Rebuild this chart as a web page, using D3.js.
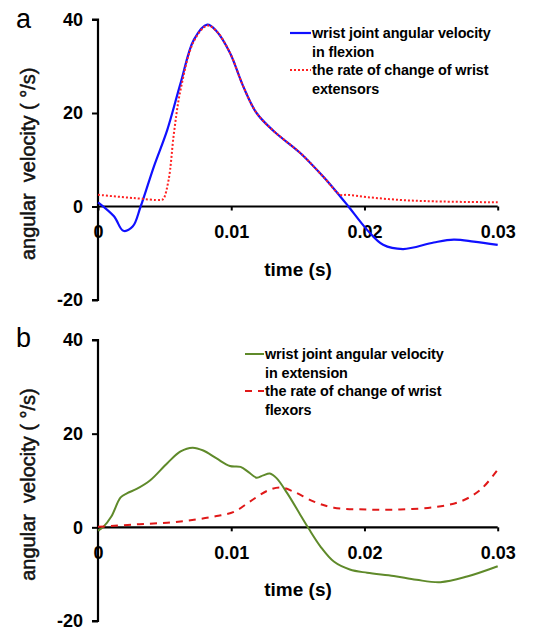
<!DOCTYPE html>
<html><head><meta charset="utf-8">
<script src="https://cdn.jsdelivr.net/npm/d3@7/dist/d3.min.js"></script>
<style>body{margin:0;background:#fff}svg{display:block}text{font-family:"Liberation Sans",Arial,sans-serif}</style>
</head><body>
<script>
// Panel a data
const aBlueT = [0,0.0012,0.0019,0.0026,0.0032,0.0042,0.0052,0.0062,0.0072,0.0082,0.0089,0.0099,0.0109,0.0119,0.0132,0.0152,0.0169,0.0182,0.0188,0.0202,0.0214,0.0229,0.0252,0.0267,0.0282,0.03];
const aBlueV = [0.9,-2.1,-5.2,-4.3,0,8.6,16.4,26.4,35.7,38.9,37.5,32.9,25.7,20,16.1,11.4,6.4,2.1,0,-5,-8.2,-9.1,-7.7,-7.1,-7.5,-8.2];
const aRedT = [0,0.0027,0.0047,0.0049,0.0053,0.0057,0.0062,0.0072,0.0082,0.0089,0.0099,0.0109,0.0119,0.0132,0.0152,0.0169,0.0182,0.0187,0.0202,0.0227,0.0252,0.03];
const aRedV = [2.5,1.8,1.4,1.6,5.7,15.7,25,35.4,38.7,37.5,32.9,25.7,20,16.1,11.4,6.4,2.5,2.5,2.0,1.4,1.1,0.9];
// Panel b data
const bGreenT = [0,0.0004,0.001,0.0017,0.0022,0.0029,0.0039,0.0052,0.0062,0.0071,0.0079,0.0089,0.0099,0.0107,0.0113,0.0119,0.0124,0.0129,0.0134,0.0142,0.0152,0.0158,0.0167,0.0177,0.0189,0.0202,0.0222,0.0239,0.0257,0.0277,0.03];
const bGreenV = [-0.7,0.1,2.3,6.4,7.3,8.2,10,13.7,16.2,17,16.4,14.7,13.1,12.9,11.8,10.6,11.1,11.5,10.5,7.3,2.6,-0.2,-4.1,-7.3,-9,-9.7,-10.4,-11.2,-11.7,-10.5,-8.3];
const bRedT = [0,0.0027,0.0052,0.0072,0.0089,0.0102,0.0114,0.0127,0.0137,0.0147,0.0162,0.0177,0.0202,0.0227,0.0252,0.0272,0.0287,0.03];
const bRedV = [0.1,0.6,1.0,1.6,2.4,3.3,5.5,7.8,8.5,7.6,5.5,4.2,3.8,3.8,4.3,5.5,8,12.3];

const xTicks = [0,0.01,0.02,0.03];
const xTickLabels = ["0","0.01","0.02","0.03"];
const yTicks = [-20,0,20,40];
const yTickLabels = ["-20","0","20","40"];

const W=534,H=632;
const svg=d3.select("body").append("svg").attr("width",W).attr("height",H);

function panel(o){
  const g=svg.append("g");
  const x=d3.scaleLinear().domain([0,0.03]).range([98,497.7]);
  const y=d3.scaleLinear().domain([-20,40]).range([o.y0,o.y40]);
  g.append("text").attr("x",o.letterX).attr("y",o.letterY).attr("font-size",27).text(o.letter);
  const ya=g.append("g").attr("transform","translate(98,0)").call(d3.axisLeft(y).tickValues(yTicks).tickSize(6).tickPadding(9).tickFormat((d,i)=>yTickLabels[i]));
  ya.select(".domain").attr("stroke","#000").attr("stroke-width",2.2).attr("d",`M-6,${y(-20)}H0V${y(40)}H-6`);
  ya.selectAll(".tick line").attr("stroke","#000").attr("stroke-width",2);
  ya.selectAll(".tick text").attr("font-size",18).attr("font-weight","bold").attr("fill","#000").attr("font-family","Liberation Sans, Arial, sans-serif");
  const xa=g.append("g").attr("transform",`translate(0,${y(0)})`).call(d3.axisBottom(x).tickValues(xTicks).tickSize(4).tickPadding(15).tickFormat((d,i)=>xTickLabels[i]));
  xa.select(".domain").attr("stroke","#000").attr("stroke-width",2.2).attr("d",`M${x(0)},0H${x(0.03)}`);
  xa.selectAll(".tick line").attr("stroke","#000").attr("stroke-width",2);
  xa.selectAll(".tick text").attr("font-size",18).attr("font-weight","bold").attr("fill","#000").attr("font-family","Liberation Sans, Arial, sans-serif");
  g.append("text").attr("x",298).attr("y",y(0)+69).attr("text-anchor","middle").attr("font-size",19).attr("font-weight","bold").text("time (s)");
  g.append("text").attr("transform",`translate(35,${(y(40)+y(-20))/2+4}) rotate(-90)`).attr("text-anchor","middle").attr("font-size",20)
    .attr("fill","#111").attr("stroke","#111").attr("stroke-width",0.5).attr("xml:space","preserve").style("white-space","pre").text("angular  velocity ( °/s)");
  o.series.forEach(s=>{
    const line=d3.line().x((d,i)=>x(s.t[i])).y(d=>y(d)).curve(d3.curveCatmullRom.alpha(0.5));
    g.append("path").attr("d",line(s.v)).attr("fill","none").attr("stroke",s.color).attr("stroke-width",s.w).attr("stroke-dasharray",s.dash||null);
  });
  o.series.forEach((s,i)=>{
    const ly=o.legY+i*o.legStep*2;
    g.append("line").attr("x1",o.legX).attr("x2",o.legX+o.legLen).attr("y1",ly).attr("y2",ly).attr("stroke",s.color).attr("stroke-width",s.w).attr("stroke-dasharray",s.dash||null);
    s.label.forEach((l,j)=>{
      g.append("text").attr("x",o.legX+o.legLen+1).attr("y",ly+j*o.legStep+5).attr("font-size",14.4).attr("font-weight","bold").attr("letter-spacing",-0.1).text(l);
    });
  });
}

panel({y0:300,y40:19.5,letter:"a",letterX:16,letterY:28,legX:290,legLen:21,legY:33,legStep:18.5,
  series:[
    {t:aBlueT,v:aBlueV,color:"#1010ff",w:2.2,label:["wrist joint angular velocity","in flexion"]},
    {t:aRedT,v:aRedV,color:"#ff2020",w:2,dash:"2,2",label:["the rate of change of wrist","extensors"]}
  ]});
panel({y0:621,y40:340,letter:"b",letterX:16,letterY:347,legX:245,legLen:19,legY:354,legStep:18.5,
  series:[
    {t:bGreenT,v:bGreenV,color:"#5f8a2a",w:2,label:["wrist joint angular velocity","in extension"]},
    {t:bRedT,v:bRedV,color:"#e01818",w:2,dash:"7,6",label:["the rate of change of wrist","flexors"]}
  ]});
</script>
</body></html>
